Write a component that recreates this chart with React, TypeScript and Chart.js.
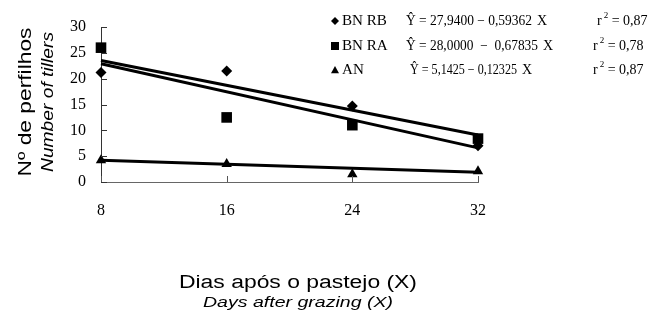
import React, { useEffect, useRef } from "react";
import { Chart, registerables } from "chart.js";

Chart.register(...registerables);

// ---- data ----
const days = [8, 16, 24, 32];
const bnRB = [21.2, 21.5, 14.7, 7.0];
const bnRA = [26.0, 12.5, 11.0, 8.4];
const an = [4.2, 3.5, 1.5, 2.1];

const fitDays = [8, 32];
const bnRBFit = [23.5, 9.1];
const bnRAFit = [22.9, 6.6];
const anFit = [4.2, 1.9];

const seriesLabels = ["BN RB", "BN RA", "AN"];
const equationLeft = [
  "Ŷ = 27,9400 − 0,59362",
  "Ŷ = 28,0000  −  0,67835",
  "Ŷ = 5,1425 − 0,12325",
];
const r2Values = ["0,87", "0,78", "0,87"];

const xTickValues = [8, 16, 24, 32];
const yTickValues = [0, 5, 10, 15, 20, 25, 30];

const yTitle = "Nº de perfilhos";
const yTitleEn = "Number of tillers";
const xTitle = "Dias após o pastejo (X)";
const xTitleEn = "Days after grazing (X)";

const SERIF = '"Liberation Serif", "Times New Roman", serif';
const SANS = '"Liberation Sans", Arial, sans-serif';

function toXY(xs: number[], ys: number[]) {
  return xs.map((x, i) => ({ x, y: ys[i] }));
}

function drawStretched(
  ctx: CanvasRenderingContext2D,
  text: string,
  x: number,
  y: number,
  font: string,
  targetWidth: number,
  rotation: number,
  align: "center" | "left" = "center"
) {
  ctx.save();
  ctx.translate(x, y);
  ctx.rotate(rotation);
  ctx.font = font;
  const w = ctx.measureText(text).width;
  ctx.scale(targetWidth / w, 1);
  ctx.textAlign = align;
  ctx.textBaseline = "alphabetic";
  ctx.fillStyle = "#000";
  ctx.fillText(text, 0, 0);
  ctx.restore();
}

function drawMarker(ctx: CanvasRenderingContext2D, kind: number, x: number, y: number, r: number) {
  ctx.beginPath();
  if (kind === 0) {
    ctx.moveTo(x, y - r);
    ctx.lineTo(x + r, y);
    ctx.lineTo(x, y + r);
    ctx.lineTo(x - r, y);
  } else if (kind === 1) {
    ctx.rect(x - r, y - r, 2 * r, 2 * r);
  } else {
    ctx.moveTo(x, y - r);
    ctx.lineTo(x + r, y + r * 0.8);
    ctx.lineTo(x - r, y + r * 0.8);
  }
  ctx.closePath();
  ctx.fillStyle = "#000";
  ctx.fill();
}

const overlay = {
  id: "overlay",
  afterDraw(chart: any) {
    const ctx: CanvasRenderingContext2D = chart.ctx;
    const xs = chart.scales.x;
    const ys = chart.scales.y;
    const a = chart.chartArea;
    ctx.save();
    // inner tick marks
    ctx.lineWidth = 1;
    ctx.strokeStyle = "#333";
    ctx.beginPath();
    yTickValues.forEach((v) => {
      const y = Math.round(ys.getPixelForValue(v)) + 0.5;
      ctx.moveTo(a.left, y);
      ctx.lineTo(a.left + 6, y);
    });
    ctx.stroke();
    ctx.strokeStyle = "#555";
    ctx.beginPath();
    xTickValues.forEach((v) => {
      const x = Math.round(xs.getPixelForValue(v)) + 0.5;
      ctx.moveTo(x, a.bottom);
      ctx.lineTo(x, a.bottom - 6);
    });
    ctx.stroke();

    // axis titles
    drawStretched(ctx, yTitle, 31, 102, `18px ${SANS}`, 149, -Math.PI / 2);
    drawStretched(ctx, yTitleEn, 53, 102, `italic 16px ${SANS}`, 140, -Math.PI / 2);
    drawStretched(ctx, xTitle, 298, 288, `18px ${SANS}`, 238, 0);
    drawStretched(ctx, xTitleEn, 298, 307, `italic 15px ${SANS}`, 190, 0);

    // legend with equations
    const rowBase = [25, 50, 74];
    const eqX = [406, 406, 410];
    const xX = [537, 543, 522];
    const rX = [597, 593, 593];
    ctx.fillStyle = "#000";
    ctx.textBaseline = "alphabetic";
    ctx.textAlign = "left";
    seriesLabels.forEach((lab, i) => {
      const b = rowBase[i];
      drawMarker(ctx, i, 335, b - 4, 4);
      ctx.font = `14px ${SERIF}`;
      const lw = ctx.measureText(lab).width;
      drawStretched(ctx, lab, 342, b, `14px ${SERIF}`, lw * 1.08, 0, "left");
      drawStretched(ctx, equationLeft[i], eqX[i], b, `14px ${SERIF}`, xX[i] - eqX[i] - 5, 0, "left");
      ctx.font = `14px ${SERIF}`;
      ctx.fillText("X", xX[i], b);
      ctx.fillText("r", rX[i], b);
      const rw = ctx.measureText("r").width;
      ctx.font = `9px ${SERIF}`;
      ctx.fillText("2", rX[i] + rw + 2, b - 7);
      ctx.font = `14px ${SERIF}`;
      ctx.fillText("= " + r2Values[i], rX[i] + rw + 10, b);
    });
    ctx.restore();
  },
};

export default function App() {
  const canvasRef = useRef<HTMLCanvasElement | null>(null);

  useEffect(() => {
    if (!canvasRef.current) return;
    const lineDs = (ys: number[]) => ({
      data: toXY(fitDays, ys),
      showLine: true,
      borderColor: "#000",
      borderWidth: 3,
      pointRadius: 0,
      clip: false,
    });
    const pointDs = (ys: number[], style: string, r: number) => ({
      data: toXY(days, ys),
      showLine: false,
      pointStyle: style,
      pointRadius: r,
      backgroundColor: "#000",
      borderColor: "#000",
      borderWidth: 0,
      clip: false,
    });
    const chart = new Chart(canvasRef.current, {
      type: "scatter",
      data: {
        datasets: [
          lineDs(bnRBFit),
          lineDs(bnRAFit),
          lineDs(anFit),
          pointDs(bnRB, "rectRot", 5.5),
          pointDs(bnRA, "rect", 7.5),
          pointDs(an, "triangle", 6),
        ] as any,
      },
      options: {
        animation: false,
        responsive: true,
        maintainAspectRatio: false,
        layout: { padding: { top: 27, right: 173, left: 0, bottom: 0 } },
        plugins: { legend: { display: false }, tooltip: { enabled: false } },
        scales: {
          x: {
            type: "linear",
            min: 8,
            max: 32,
            afterBuildTicks: (s: any) => {
              s.ticks = xTickValues.map((v) => ({ value: v }));
            },
            afterFit: (s: any) => {
              s.height = 132;
            },
            grid: { display: false, drawTicks: false },
            border: { display: true, color: "#666", width: 1 },
            ticks: {
              padding: 19,
              color: "#000",
              font: { family: SERIF, size: 16 },
            },
          },
          y: {
            type: "linear",
            min: 0,
            max: 30,
            afterBuildTicks: (s: any) => {
              s.ticks = yTickValues.map((v) => ({ value: v }));
            },
            afterFit: (s: any) => {
              s.width = 101;
            },
            grid: { display: false, drawTicks: false },
            border: { display: true, color: "#333", width: 1 },
            ticks: {
              padding: 15,
              color: "#000",
              font: { family: SERIF, size: 16 },
            },
          },
        },
      } as any,
      plugins: [overlay],
    });
    return () => chart.destroy();
  }, []);

  return (
    <div style={{ position: "absolute", left: 0, top: 0, width: 651, height: 314, background: "#fff" }}>
      <canvas ref={canvasRef} />
    </div>
  );
}
